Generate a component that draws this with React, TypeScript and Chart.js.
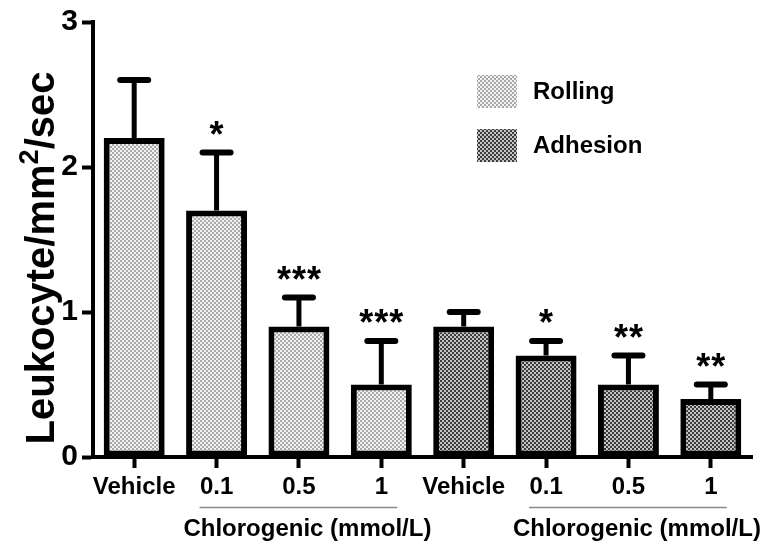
import React, { useEffect, useRef } from "react";
import { Chart, registerables } from "chart.js";

Chart.register(...registerables);

const categories = ["Vehicle", "0.1", "0.5", "1", "Vehicle", "0.1", "0.5", "1"];
const rollingMean = [2.2, 1.7, 0.9, 0.5, null, null, null, null];
const rollingUpper = [2.6, 2.1, 1.1, 0.8, null, null, null, null];
const adhesionMean = [null, null, null, null, 0.9, 0.7, 0.5, 0.4];
const adhesionUpper = [null, null, null, null, 1.0, 0.8, 0.7, 0.5];
const significance = ["", "*", "***", "***", "", "*", "**", "**"];
const seriesNames = ["Rolling", "Adhesion"];
const groupLabel = "Chlorogenic (mmol/L)";
const groupRanges = [
  [1, 3],
  [5, 7],
];
const yTitleMain = "Leukocyte/mm";
const yTitleSup = "2";
const yTitleEnd = "/sec";

const FONT = "'Liberation Sans', Arial, Helvetica, sans-serif";

function makePattern(c1: string, c2: string, size: number) {
  const cv = document.createElement("canvas");
  cv.width = size * 2;
  cv.height = size * 2;
  const g = cv.getContext("2d")!;
  g.fillStyle = c1;
  g.fillRect(0, 0, size * 2, size * 2);
  g.fillStyle = c2;
  g.fillRect(0, 0, size, size);
  g.fillRect(size, size, size, size);
  const ctx = document.createElement("canvas").getContext("2d")!;
  return ctx.createPattern(cv, "repeat")!;
}

export default function App() {
  const ref = useRef<HTMLCanvasElement>(null);

  useEffect(() => {
    const canvas = ref.current!;
    const rollingFill = makePattern("#f2f2f2", "#a9a9a9", 2);
    const adhesionFill = makePattern("#c4c4c4", "#3c3c3c", 2);
    const uppers = [rollingUpper, adhesionUpper];
    const fills = [rollingFill, adhesionFill];

    const overlay = {
      id: "overlay",
      afterDatasetsDraw(chart: any) {
        const ctx = chart.ctx as CanvasRenderingContext2D;
        const y = chart.scales.y;
        ctx.save();
        chart.data.datasets.forEach((ds: any, di: number) => {
          const meta = chart.getDatasetMeta(di);
          meta.data.forEach((bar: any, j: number) => {
            const v = ds.data[j];
            if (v == null) return;
            const up = uppers[di][j];
            const yTop = y.getPixelForValue(v);
            const yErr = y.getPixelForValue(up);
            ctx.strokeStyle = "#000";
            ctx.lineWidth = 5;
            ctx.lineCap = "butt";
            ctx.beginPath();
            ctx.moveTo(bar.x, yTop);
            ctx.lineTo(bar.x, yErr);
            ctx.stroke();
            ctx.lineWidth = 6;
            ctx.lineCap = "round";
            ctx.beginPath();
            ctx.moveTo(bar.x - 14, yErr);
            ctx.lineTo(bar.x + 14, yErr);
            ctx.stroke();
            const s = significance[j];
            if (s) {
              ctx.fillStyle = "#000";
              ctx.font = `bold 36px ${FONT}`;
              ctx.textAlign = "center";
              ctx.textBaseline = "alphabetic";
              const n = s.length;
              for (let k = 0; k < n; k++) {
                const cx = bar.x + (k - (n - 1) / 2) * 15;
                ctx.fillText("*", cx, yErr - 6);
              }
            }
          });
        });
        ctx.restore();
      },
      afterDraw(chart: any) {
        const ctx = chart.ctx as CanvasRenderingContext2D;
        const x = chart.scales.x;
        ctx.save();
        // legend
        const ly = [75, 129];
        seriesNames.forEach((name, i) => {
          ctx.fillStyle = fills[i];
          ctx.fillRect(477, ly[i], 40, 33);
          ctx.fillStyle = "#000";
          ctx.font = `bold 24px ${FONT}`;
          ctx.textAlign = "left";
          ctx.textBaseline = "middle";
          ctx.fillText(name, 533, ly[i] + 17);
        });
        // group labels
        groupRanges.forEach(([a, b]) => {
          const xa = x.getPixelForValue(a) - 17;
          const xb = x.getPixelForValue(b) + 16;
          ctx.strokeStyle = "#8a8a8a";
          ctx.lineWidth = 1.5;
          ctx.beginPath();
          ctx.moveTo(xa, 507.5);
          ctx.lineTo(xb, 507.5);
          ctx.stroke();
          ctx.fillStyle = "#000";
          ctx.font = `bold 24px ${FONT}`;
          ctx.textAlign = "center";
          ctx.textBaseline = "middle";
          ctx.fillText(groupLabel, (xa + xb) / 2 + 9, 529);
        });
        // y title
        ctx.translate(54, 258);
        ctx.rotate(-Math.PI / 2);
        ctx.fillStyle = "#000";
        ctx.textBaseline = "alphabetic";
        ctx.textAlign = "left";
        const big = `bold 40px ${FONT}`;
        const small = `bold 27px ${FONT}`;
        ctx.font = big;
        const w1 = ctx.measureText(yTitleMain).width;
        const w3 = ctx.measureText(yTitleEnd).width;
        ctx.font = small;
        const w2 = ctx.measureText(yTitleSup).width;
        const total = w1 + w2 + w3;
        let px = -total / 2;
        ctx.font = big;
        ctx.fillText(yTitleMain, px, 0);
        px += w1;
        ctx.font = small;
        ctx.fillText(yTitleSup, px, -16);
        px += w2;
        ctx.font = big;
        ctx.fillText(yTitleEnd, px, 0);
        ctx.restore();
      },
    };

    const chart = new Chart(canvas, {
      type: "bar",
      data: {
        labels: categories,
        datasets: [
          {
            label: seriesNames[0],
            data: rollingMean as any,
            backgroundColor: rollingFill as any,
            borderColor: "#000",
            borderWidth: 6,
            borderSkipped: false,
            grouped: false,
            barPercentage: 0.74,
            categoryPercentage: 1,
          },
          {
            label: seriesNames[1],
            data: adhesionMean as any,
            backgroundColor: adhesionFill as any,
            borderColor: "#000",
            borderWidth: 6,
            borderSkipped: false,
            grouped: false,
            barPercentage: 0.74,
            categoryPercentage: 1,
          },
        ],
      },
      options: {
        animation: false,
        responsive: false,
        maintainAspectRatio: false,
        layout: { padding: { top: 20, right: 14, left: 0, bottom: 0 } },
        plugins: {
          legend: { display: false },
          tooltip: { enabled: false },
          title: { display: false },
        },
        scales: {
          x: {
            border: { display: true, color: "#000", width: 4 },
            grid: {
              display: true,
              offset: false,
              drawOnChartArea: false,
              drawTicks: true,
              tickLength: 11,
              tickWidth: 4,
              color: "#000",
            },
            ticks: {
              color: "#000",
              font: { family: FONT, size: 24, weight: "bold" },
              padding: 5,
              maxRotation: 0,
              autoSkip: false,
            },
            afterFit(scale: any) {
              scale.height = 89;
            },
          },
          y: {
            min: 0,
            max: 3,
            border: { display: true, color: "#000", width: 4 },
            grid: {
              display: true,
              drawOnChartArea: false,
              drawTicks: true,
              tickLength: 11,
              tickWidth: 4,
              color: "#000",
            },
            ticks: {
              stepSize: 1,
              color: "#000",
              font: { family: FONT, size: 30, weight: "bold" },
              padding: 4,
            },
            afterFit(scale: any) {
              scale.width = 93;
            },
          },
        },
      },
      plugins: [overlay],
    });
    return () => chart.destroy();
  }, []);

  return (
    <div style={{ position: "fixed", left: 0, top: 0, width: 766, height: 546, background: "#fff" }}>
      <canvas ref={ref} width={766} height={546} style={{ width: 766, height: 546 }} />
    </div>
  );
}
